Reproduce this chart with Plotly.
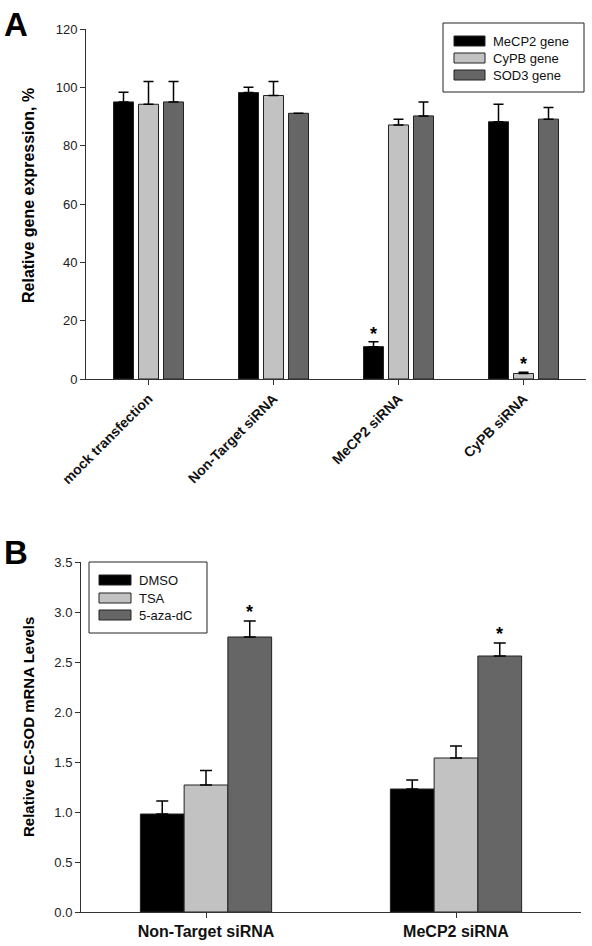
import plotly.graph_objects as go

W, H = 592, 946

# ---------------- Panel A data ----------------
a_categories = ["mock transfection", "Non-Target siRNA", "MeCP2 siRNA", "CyPB siRNA"]
a_series = ["MeCP2 gene", "CyPB gene", "SOD3 gene"]
a_mecp2 = [95.0, 98.2, 11.1, 88.2]
a_mecp2_err = [3.3, 1.8, 1.7, 6.0]
a_cypb = [94.2, 97.2, 87.1, 1.9]
a_cypb_err = [7.8, 4.8, 2.0, 0.4]
a_sod3 = [95.0, 91.1, 90.2, 89.1]
a_sod3_err = [7.0, None, 4.8, 4.0]
a_yticks = [0, 20, 40, 60, 80, 100, 120]
# significance markers: (category, series index)
a_stars = [("MeCP2 siRNA", 0), ("CyPB siRNA", 1)]

# ---------------- Panel B data ----------------
b_categories = ["Non-Target siRNA", "MeCP2 siRNA"]
b_series = ["DMSO", "TSA", "5-aza-dC"]
b_dmso = [0.98, 1.23]
b_dmso_err = [0.13, 0.09]
b_tsa = [1.27, 1.54]
b_tsa_err = [0.145, 0.12]
b_aza = [2.75, 2.56]
b_aza_err = [0.16, 0.13]
b_yticks = [0.0, 0.5, 1.0, 1.5, 2.0, 2.5, 3.0, 3.5]
b_stars = [("Non-Target siRNA", 2), ("MeCP2 siRNA", 2)]

colors = ["#000000", "#c2c2c2", "#666666"]
FONT = "Liberation Sans, Arial, sans-serif"


def px(x):
    return x / W


def py(y):
    return 1 - y / H


fig = go.Figure()

# Panel A bars
a_width = 0.16
a_offsets = [-0.28, -0.08, 0.12]
for i, (name, vals, errs) in enumerate(zip(a_series, [a_mecp2, a_cypb, a_sod3],
                                          [a_mecp2_err, a_cypb_err, a_sod3_err])):
    fig.add_trace(go.Bar(
        x=a_categories, y=vals, name=name, width=a_width, offset=a_offsets[i],
        marker=dict(color=colors[i], line=dict(color="#222222", width=1)),
        error_y=dict(type="data", symmetric=False, array=errs,
                     arrayminus=[0] * len(vals), color="#000000",
                     thickness=1.5, width=5),
        xaxis="x", yaxis="y", showlegend=False,
    ))

# Panel B bars
b_width = 0.175
b_offsets = [-0.2625, -0.0875, 0.0875]
for i, (name, vals, errs) in enumerate(zip(b_series, [b_dmso, b_tsa, b_aza],
                                          [b_dmso_err, b_tsa_err, b_aza_err])):
    fig.add_trace(go.Bar(
        x=b_categories, y=vals, name=name, width=b_width, offset=b_offsets[i],
        marker=dict(color=colors[i], line=dict(color="#222222", width=1)),
        error_y=dict(type="data", symmetric=False, array=errs,
                     arrayminus=[0] * len(vals), color="#000000",
                     thickness=1.5, width=6),
        xaxis="x2", yaxis="y2", showlegend=False,
    ))

axis_common = dict(showgrid=False, zeroline=False, showline=True,
                   linecolor="#333333", linewidth=1, ticks="outside",
                   ticklen=5, tickwidth=1, tickcolor="#333333",
                   automargin=False)

fig.update_layout(
    width=W, height=H, margin=dict(l=0, r=0, t=0, b=0, pad=0, autoexpand=False),
    paper_bgcolor="white", plot_bgcolor="white", barmode="overlay",
    showlegend=False,
    xaxis=dict(domain=[px(86), px(586)], anchor="y", type="category",
               range=[-0.5, 3.5], tickangle=-45,
               tickfont=dict(family=FONT, size=14, color="#111111"),
               **axis_common),
    yaxis=dict(domain=[py(379), py(29)], anchor="x", range=[0, 120],
               tickvals=a_yticks,
               tickfont=dict(family=FONT, size=13, color="#222222"),
               **axis_common),
    xaxis2=dict(domain=[px(81), px(581)], anchor="y2", type="category",
                range=[-0.5, 1.5],
                tickfont=dict(family=FONT, size=16, color="#111111"),
                **axis_common),
    yaxis2=dict(domain=[py(912), py(562)], anchor="x2", range=[0, 3.5],
                tickvals=b_yticks, tickformat=".1f",
                tickfont=dict(family=FONT, size=13, color="#222222"),
                **axis_common),
)

# bold category labels
fig.update_xaxes(tickprefix="<b>", ticksuffix="</b>")

annotations = []
shapes = []

# panel letters
annotations.append(dict(text="<b>A</b>", x=px(2), y=py(4), xref="paper", yref="paper",
                        xanchor="left", yanchor="top", showarrow=False,
                        font=dict(family=FONT, size=33, color="black")))
annotations.append(dict(text="<b>B</b>", x=px(2), y=py(532), xref="paper", yref="paper",
                        xanchor="left", yanchor="top", showarrow=False,
                        font=dict(family=FONT, size=33, color="black")))

# axis titles
annotations.append(dict(text="<b>Relative gene expression, %</b>", x=px(28), y=py(196),
                        xref="paper", yref="paper", textangle=-90, showarrow=False,
                        xanchor="center", yanchor="middle",
                        font=dict(family=FONT, size=16, color="black")))
annotations.append(dict(text="<b>Relative EC-SOD mRNA Levels</b>", x=px(28), y=py(727),
                        xref="paper", yref="paper", textangle=-90, showarrow=False,
                        xanchor="center", yanchor="middle",
                        font=dict(family=FONT, size=15, color="black")))

# significance stars
a_vals = [a_mecp2, a_cypb, a_sod3]
a_errs = [a_mecp2_err, a_cypb_err, a_sod3_err]
for cat, si in a_stars:
    ci = a_categories.index(cat)
    top = a_vals[si][ci] + (a_errs[si][ci] or 0)
    annotations.append(dict(text="<b>*</b>", x=ci + a_offsets[si] + a_width / 2, y=top,
                            xref="x", yref="y", showarrow=False, yanchor="bottom",
                            yshift=-4, font=dict(family=FONT, size=18, color="black")))
b_vals = [b_dmso, b_tsa, b_aza]
b_errs = [b_dmso_err, b_tsa_err, b_aza_err]
for cat, si in b_stars:
    ci = b_categories.index(cat)
    top = b_vals[si][ci] + b_errs[si][ci]
    annotations.append(dict(text="<b>*</b>", x=ci + b_offsets[si] + b_width / 2, y=top,
                            xref="x2", yref="y2", showarrow=False, yanchor="bottom",
                            yshift=-3, font=dict(family=FONT, size=18, color="black")))


# manual legends (wide swatches like the original)
def add_legend(box, sw_x0, sw_x1, text_x, rows, names):
    x0, y0, x1, y1 = box
    shapes.append(dict(type="rect", xref="paper", yref="paper",
                       x0=px(x0), x1=px(x1), y0=py(y1), y1=py(y0),
                       line=dict(color="#222222", width=1), fillcolor="white"))
    for i, (yy, nm) in enumerate(zip(rows, names)):
        shapes.append(dict(type="rect", xref="paper", yref="paper",
                           x0=px(sw_x0), x1=px(sw_x1), y0=py(yy + 5), y1=py(yy - 5),
                           line=dict(color="#222222", width=1), fillcolor=colors[i]))
        annotations.append(dict(text=nm, x=px(text_x), y=py(yy), xref="paper",
                                yref="paper", xanchor="left", yanchor="middle",
                                showarrow=False,
                                font=dict(family=FONT, size=13, color="#111111")))


add_legend((443, 23, 584, 92), 454, 485, 491, [41, 58, 75], a_series)
add_legend((89, 562, 207, 633), 99, 131, 137, [580, 598, 615], b_series)

fig.update_layout(annotations=annotations, shapes=shapes)

fig.write_html(
    "out.html",
    config={"displayModeBar": False},
    post_script="document.body.style.margin='0px';document.body.style.overflow='hidden';",
)
